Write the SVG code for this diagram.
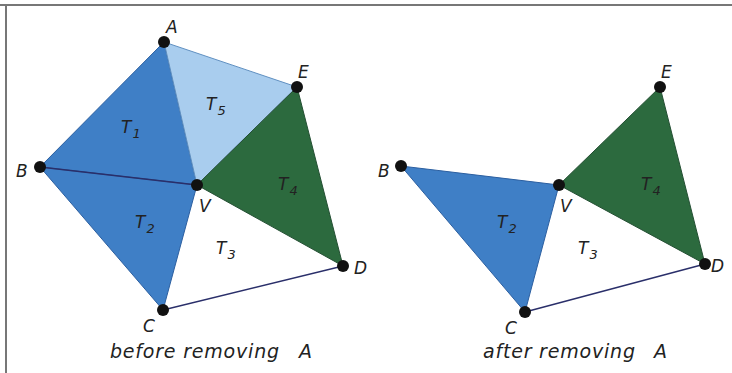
<svg xmlns="http://www.w3.org/2000/svg" width="732" height="373" viewBox="0 0 732 373">
<style>
.lbl{font-family:"DejaVu Sans","Liberation Sans",sans-serif;font-style:italic;font-size:17px;fill:#222}
.sub{font-size:13px}
.cap{font-family:"DejaVu Sans","Liberation Sans",sans-serif;font-style:italic;font-size:19px;letter-spacing:0.8px;fill:#222}
.blue{fill:#3f7fc6;stroke:#2c5fa0;stroke-width:1}
.lblue{fill:#a9cdee;stroke:#5f8fc0;stroke-width:1}
.green{fill:#2c6a3e;stroke:#244f33;stroke-width:1}
.edge{stroke:#2a2f6a;stroke-width:1.3;fill:none}
.pt{fill:#111}
</style>
<rect width="732" height="373" fill="#fff"/>
<g id="frame" stroke="#777" stroke-width="2" fill="none">
<line x1="0" y1="5" x2="732" y2="5"/>
<line x1="6" y1="5" x2="6" y2="373"/>
</g>
<g id="left">
<g id="L-T1"><polygon class="blue" points="164,42 40,167 197,185"/><text class="lbl" x="121" y="133">T<tspan class="sub" dx="1" dy="5">1</tspan></text></g>
<g id="L-T5"><polygon class="lblue" points="164,42 297,87 197,185"/><text class="lbl" x="206" y="110">T<tspan class="sub" dx="1" dy="5">5</tspan></text></g>
<g id="L-T4"><polygon class="green" points="297,87 343,266 197,185"/><text class="lbl" x="278" y="190">T<tspan class="sub" dx="1" dy="5">4</tspan></text></g>
<g id="L-T2"><polygon class="blue" points="40,167 197,185 163,310"/><text class="lbl" x="135" y="228">T<tspan class="sub" dx="1" dy="5">2</tspan></text></g>
<g id="L-T3"><text class="lbl" x="216" y="254">T<tspan class="sub" dx="1" dy="5">3</tspan></text></g>
</g>
<g id="connectors">
<line class="edge" x1="40" y1="167" x2="197" y2="185"/>
<line class="edge" x1="163" y1="310" x2="343" y2="266"/>
<line class="edge" x1="525" y1="312" x2="705" y2="264"/>
</g>
<g id="left-points">
<g id="L-A"><circle class="pt" cx="164" cy="42" r="6"/><text class="lbl" x="166" y="33">A</text></g>
<g id="L-E"><circle class="pt" cx="297" cy="87" r="6"/><text class="lbl" x="298" y="78">E</text></g>
<g id="L-B"><circle class="pt" cx="40" cy="167" r="6"/><text class="lbl" x="16" y="177">B</text></g>
<g id="L-V"><circle class="pt" cx="197" cy="185" r="6"/><text class="lbl" x="199" y="212">V</text></g>
<g id="L-D"><circle class="pt" cx="343" cy="266" r="6"/><text class="lbl" x="354" y="274">D</text></g>
<g id="L-C"><circle class="pt" cx="163" cy="310" r="6"/><text class="lbl" x="143" y="332">C</text></g>
</g>
<g id="right">
<g id="R-T4"><polygon class="green" points="660,87 705,264 559,185"/><text class="lbl" x="641" y="190">T<tspan class="sub" dx="1" dy="5">4</tspan></text></g>
<g id="R-T2"><polygon class="blue" points="401,166 559,185 525,312"/><text class="lbl" x="497" y="228">T<tspan class="sub" dx="1" dy="5">2</tspan></text></g>
<g id="R-T3"><text class="lbl" x="578" y="254">T<tspan class="sub" dx="1" dy="5">3</tspan></text></g>
<g id="R-E"><circle class="pt" cx="660" cy="87" r="6"/><text class="lbl" x="661" y="78">E</text></g>
<g id="R-B"><circle class="pt" cx="401" cy="166" r="6"/><text class="lbl" x="378" y="177">B</text></g>
<g id="R-V"><circle class="pt" cx="559" cy="185" r="6"/><text class="lbl" x="560" y="212">V</text></g>
<g id="R-D"><circle class="pt" cx="705" cy="264" r="6"/><text class="lbl" x="711" y="272">D</text></g>
<g id="R-C"><circle class="pt" cx="525" cy="312" r="6"/><text class="lbl" x="505" y="334">C</text></g>
</g>
<g id="captions">
<text class="cap" x="110" y="358">before removing<tspan x="299">A</tspan></text>
<text class="cap" x="483" y="358">after removing<tspan x="654">A</tspan></text>
</g>
</svg>
